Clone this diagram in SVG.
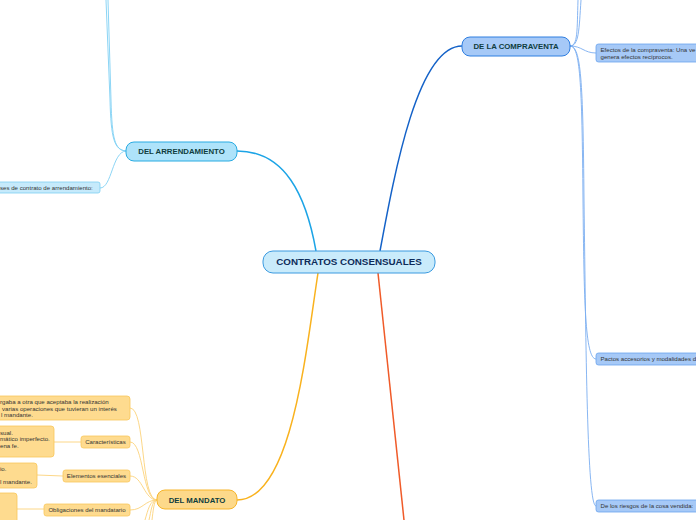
<svg xmlns="http://www.w3.org/2000/svg" width="696" height="520" viewBox="0 0 696 520">
<style>
text{font-family:"Liberation Sans",Arial,sans-serif;}
.main{font-size:9.8px;font-weight:bold;fill:#0d2b5a;text-anchor:middle;}
.sub{font-size:7.8px;font-weight:bold;fill:#0f3d3e;text-anchor:middle;}
.leaf{font-size:6.1px;fill:#333;}
.leafc{font-size:6.1px;fill:#333;text-anchor:middle;}
.ca{fill:none;stroke:#7fd0f4;stroke-width:0.9;}
.cb{fill:none;stroke:#7aaef0;stroke-width:0.9;}
.cm{fill:none;stroke:#fcd27a;stroke-width:0.9;}
</style>
<rect width="696" height="520" fill="#fff"/>
<g id="connectors">
<path d="M316,251 C306,195 285,151 237,151" fill="none" stroke="#1ca4e6" stroke-width="1.5"/>
<path d="M380,251 C395,170 418,46 462,46" fill="none" stroke="#1462c8" stroke-width="1.5"/>
<path d="M318,273 C306,350 292,500 237,500" fill="none" stroke="#f9b21e" stroke-width="1.5"/>
<path d="M378,273 L404,520" fill="none" stroke="#f05a28" stroke-width="1.5"/>
<path class="ca" d="M126,151 C115,150 112,140 111,100 L108,0"/>
<path class="ca" d="M126,151 C114,150 111,138 110,100 L106,0"/>
<path class="ca" d="M126,151 C112,152 112,188 100,188"/>
<path class="cb" d="M570,46 C578,46 577,30 578,0"/>
<path class="cb" d="M570,46 C579,46 579,30 581,0"/>
<path class="cb" d="M570,46 C582,46 584,53 596,53"/>
<path class="cb" d="M570,46 C580,46 582,80 583,200 C584,300 585,359 596,359"/>
<path class="cb" d="M570,46 C581,46 583,80 584,200 C586,350 587,506 596,506"/>
<path class="cm" d="M157,500 C140,500 146,408 130,408"/>
<path class="cm" d="M157,500 C142,500 144,442 130,442"/>
<path class="cm" d="M157,500 C144,500 143,476 130,476"/>
<path class="cm" d="M157,500 C145,500 143,510 130,510"/>
<path class="cm" d="M157,500 C150,500 148,510 145,520"/>
<path class="cm" d="M157,500 C152,500 151,512 149,520"/>
<path class="cm" d="M157,500 C154,500 153,512 152,520"/>
<path class="cm" d="M54,442 L81,442"/>
<path class="cm" d="M37,475 L63,476"/>
<path class="cm" d="M17,509 L44,509"/>
</g>
<g id="central">
<rect x="263" y="251" width="172" height="22" rx="10" fill="#c9ebfb" stroke="#3a9ae0" stroke-width="1"/>
<text class="main" x="349" y="265.4">CONTRATOS CONSENSUALES</text>
</g>
<g id="arrendamiento">
<rect x="126" y="142" width="111" height="19" rx="8" fill="#aee3fa" stroke="#29abe2" stroke-width="1"/>
<text class="sub" x="181.5" y="154.3">DEL ARRENDAMIENTO</text>
</g>
<g id="clases-arrendamiento">
<rect x="-10" y="182" width="110" height="11" rx="2" fill="#c6eafb" stroke="#7dcff3" stroke-width="0.8"/>
<text class="leaf" x="0" y="190">ses de contrato de arrendamiento:</text>
</g>
<g id="compraventa">
<rect x="462" y="37" width="108" height="19" rx="8" fill="#a6c9f7" stroke="#2f7ee0" stroke-width="1"/>
<text class="sub" x="516" y="49.3">DE LA COMPRAVENTA</text>
</g>
<g id="efectos">
<rect x="596" y="44" width="110" height="18" rx="2.5" fill="#a6c9f7" stroke="#6aa3ee" stroke-width="0.8"/>
<text class="leaf" x="600.5" y="51.5">Efectos de la compraventa: Una ve</text>
<text class="leaf" x="600.5" y="58.5">genera efectos recíprocos.</text>
</g>
<g id="pactos">
<rect x="596" y="353" width="110" height="12" rx="2.5" fill="#a6c9f7" stroke="#6aa3ee" stroke-width="0.8"/>
<text class="leaf" x="600.5" y="361.2">Pactos accesorios y modalidades d</text>
</g>
<g id="riesgos">
<rect x="596" y="500" width="110" height="12" rx="2.5" fill="#a6c9f7" stroke="#6aa3ee" stroke-width="0.8"/>
<text class="leaf" x="600.5" y="508.2">De los riesgos de la cosa vendida:</text>
</g>
<g id="mandato">
<rect x="157" y="490" width="80" height="19" rx="8" fill="#fdd98a" stroke="#f7b52a" stroke-width="1"/>
<text class="sub" x="197" y="502.6">DEL MANDATO</text>
</g>
<g id="definicion-mandato">
<rect x="-10" y="396" width="140" height="24" rx="3" fill="#fedb8f" stroke="#f9c75a" stroke-width="0.8"/>
<text class="leaf" x="0" y="403.5">rgaba a otra que aceptaba la realización</text>
<text class="leaf" x="2" y="410.5">varias operaciones que tuvieran un interés</text>
<text class="leaf" x="1" y="417">l mandante.</text>
</g>
<g id="caracteristicas">
<rect x="81" y="436" width="49" height="12" rx="2.5" fill="#fedb8f" stroke="#f9c75a" stroke-width="0.8"/>
<text class="leafc" x="105.5" y="444.2">Características</text>
</g>
<g id="caracteristicas-detalle">
<rect x="-10" y="426" width="64" height="31" rx="3" fill="#fedb8f" stroke="#f9c75a" stroke-width="0.8"/>
<text class="leaf" x="0" y="435">sual.</text>
<text class="leaf" x="0" y="441">mático imperfecto.</text>
<text class="leaf" x="0" y="447.5">ena fe.</text>
</g>
<g id="elementos">
<rect x="63" y="470" width="67" height="12" rx="2.5" fill="#fedb8f" stroke="#f9c75a" stroke-width="0.8"/>
<text class="leafc" x="96.5" y="478.2">Elementos esenciales</text>
</g>
<g id="elementos-detalle">
<rect x="-10" y="463" width="47" height="25" rx="3" fill="#fedb8f" stroke="#f9c75a" stroke-width="0.8"/>
<text class="leaf" x="0" y="471">io.</text>
<text class="leaf" x="0" y="484">l mandante.</text>
</g>
<g id="obligaciones">
<rect x="44" y="504" width="86" height="12" rx="2.5" fill="#fedb8f" stroke="#f9c75a" stroke-width="0.8"/>
<text class="leafc" x="87" y="512.2">Obligaciones del mandatario</text>
</g>
<g id="obligaciones-detalle">
<rect x="-10" y="493" width="27" height="40" rx="3" fill="#fedb8f" stroke="#f9c75a" stroke-width="0.8"/>
</g>
</svg>
